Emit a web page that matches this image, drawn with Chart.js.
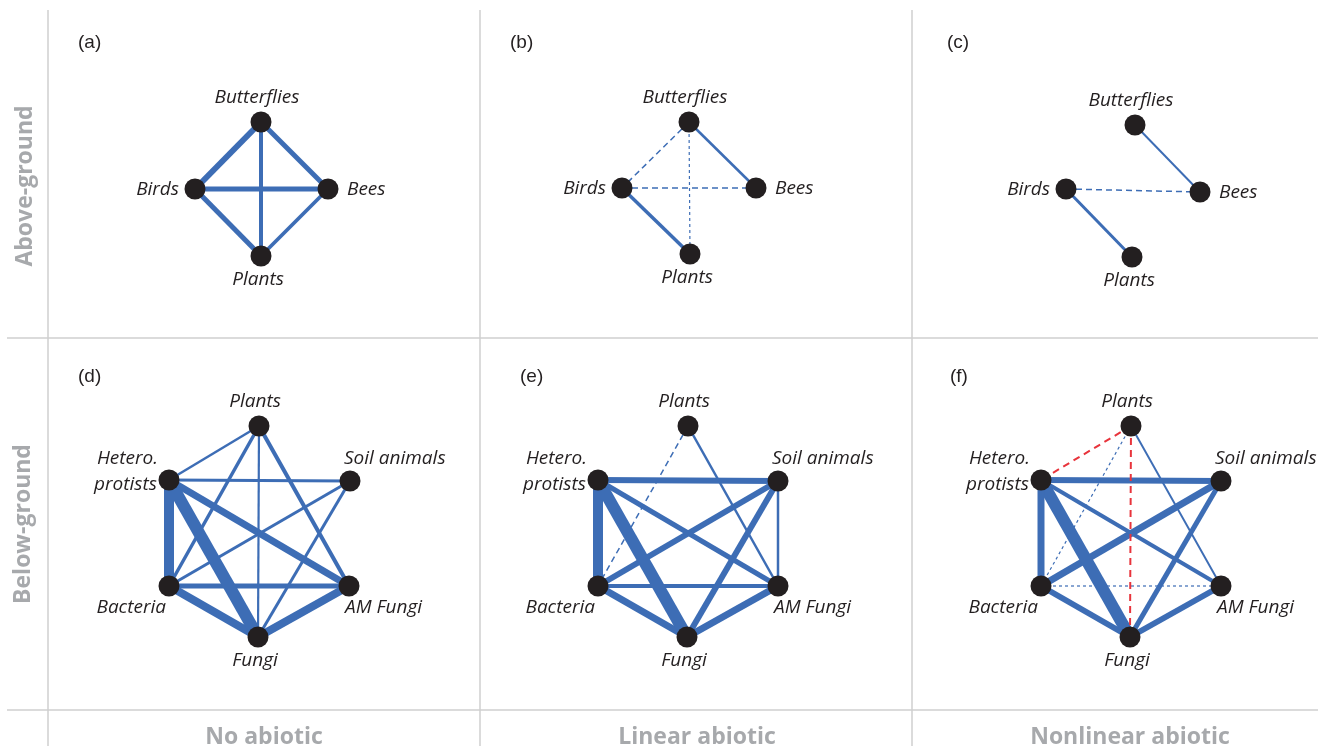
<!DOCTYPE html>
<html>
<head>
<meta charset="utf-8">
<script src="https://cdn.jsdelivr.net/npm/chart.js@4.4.1/dist/chart.umd.min.js"></script>
<style>
  html, body { margin: 0; padding: 0; background: #fff; }
  #wrap { width: 1333px; height: 746px; position: relative; }
</style>
</head>
<body>
<div id="wrap"><canvas id="myChart"></canvas></div>
<script>
let blue = "#3d6db5", red = "#e8343c", dark = "#231f20", grey = "#a7a9ac";

let colLabels = ["No abiotic", "Linear abiotic", "Nonlinear abiotic"];
let rowLabels = ["Above-ground", "Below-ground"];
let panelLetters = ["(a)", "(b)", "(c)", "(d)", "(e)", "(f)"];

// node names
let aboveNodes = ["Butterflies", "Birds", "Bees", "Plants"];
let belowNodes = ["Plants", "Hetero.\nprotists", "Soil animals", "Bacteria", "AM Fungi", "Fungi"];
// where the name sits relative to the node
let aboveSides = ["top", "left", "right", "bottom"];
let belowSides = ["top", "leftTwo", "topRight", "bottomLeft", "bottomRight", "bottom"];

// node positions (page units) per panel
let posA = [[261, 122], [195, 189], [328, 189], [261, 256]];
let posB = [[689, 122], [622, 188], [756, 188], [690, 254]];
let posC = [[1135, 125], [1066, 189], [1200, 192], [1132, 257]];
let posD = [[259, 426], [169, 480], [350, 481], [169, 586], [349, 586], [258, 637]];
let posE = [[688, 426], [598, 480], [778, 481], [598, 586], [778, 586], [687, 637]];
let posF = [[1131, 426], [1041, 480], [1221, 481], [1041, 586], [1221, 586], [1130, 637]];

// edges: [from, to, strength, kind]  s = solid, d = dashed, f = fine dashed, r = red dashed
let edgesA = [[0, 1, 6, "s"], [0, 2, 5, "s"], [0, 3, 4, "s"], [1, 2, 5, "s"], [1, 3, 5, "s"], [2, 3, 3.7, "s"]];
let edgesB = [[0, 1, 1.5, "d"], [0, 2, 2.5, "s"], [0, 3, 1.2, "f"], [1, 2, 1.5, "d"], [1, 3, 3.5, "s"]];
let edgesC = [[0, 2, 2, "s"], [1, 2, 1.5, "d"], [1, 3, 3, "s"]];
let edgesD = [[0, 1, 2.5, "s"], [0, 3, 3.5, "s"], [0, 5, 2.2, "s"], [0, 4, 4, "s"], [1, 2, 3, "s"], [1, 3, 10, "s"],
              [1, 5, 12, "s"], [1, 4, 7, "s"], [2, 3, 3, "s"], [2, 5, 3, "s"], [3, 4, 5, "s"], [3, 5, 8, "s"], [4, 5, 8, "s"]];
let edgesE = [[0, 3, 1.5, "d"], [0, 4, 2.5, "s"], [1, 2, 6, "s"], [1, 3, 10, "s"], [1, 5, 12, "s"], [1, 4, 5, "s"],
              [2, 3, 6, "s"], [2, 5, 6, "s"], [2, 4, 2.5, "s"], [3, 4, 4, "s"], [3, 5, 7, "s"], [4, 5, 7, "s"]];
let edgesF = [[0, 1, 2, "r"], [0, 3, 1.2, "f"], [0, 5, 2, "r"], [0, 4, 2, "s"], [1, 2, 6, "s"], [1, 3, 7, "s"],
              [1, 5, 12, "s"], [1, 4, 4, "s"], [2, 3, 7, "s"], [2, 5, 5, "s"], [3, 4, 1.2, "f"], [3, 5, 6, "s"], [4, 5, 6, "s"]];

let panels = [
  { pos: posA, edges: edgesA, names: aboveNodes, sides: aboveSides },
  { pos: posB, edges: edgesB, names: aboveNodes, sides: aboveSides },
  { pos: posC, edges: edgesC, names: aboveNodes, sides: aboveSides },
  { pos: posD, edges: edgesD, names: belowNodes, sides: belowSides },
  { pos: posE, edges: edgesE, names: belowNodes, sides: belowSides },
  { pos: posF, edges: edgesF, names: belowNodes, sides: belowSides }
];

let dashes = { s: [], d: [6, 4], f: [3, 3], r: [7, 5] };
let nodeRadius = 10.5;

let datasets = [];
panels.forEach(p => {
  p.edges.forEach(e => {
    let a = p.pos[e[0]], b = p.pos[e[1]];
    datasets.push({
      type: "scatter",
      data: [{ x: a[0], y: a[1] }, { x: b[0], y: b[1] }],
      showLine: true,
      borderColor: e[3] === "r" ? red : blue,
      borderWidth: e[2],
      borderDash: dashes[e[3]],
      pointRadius: 0,
      order: 1
    });
  });
  datasets.push({
    type: "scatter",
    data: p.pos.map(q => ({ x: q[0], y: q[1] })),
    pointRadius: nodeRadius,
    pointBackgroundColor: dark,
    pointBorderWidth: 0,
    order: 0
  });
});

let framePlugin = {
  id: "frame",
  beforeDatasetsDraw(chart) {
    let c = chart.ctx, sx = chart.scales.x, sy = chart.scales.y;
    c.save();
    c.strokeStyle = "#cfcfcf";
    c.lineWidth = 1.5;
    [48, 480, 912].forEach(v => {
      c.beginPath();
      c.moveTo(sx.getPixelForValue(v), sy.getPixelForValue(10));
      c.lineTo(sx.getPixelForValue(v), sy.getPixelForValue(746));
      c.stroke();
    });
    [338, 710].forEach(h => {
      c.beginPath();
      c.moveTo(sx.getPixelForValue(7), sy.getPixelForValue(h));
      c.lineTo(sx.getPixelForValue(1318), sy.getPixelForValue(h));
      c.stroke();
    });
    c.restore();
  },
  afterDatasetsDraw(chart) {
    let c = chart.ctx, sx = chart.scales.x, sy = chart.scales.y;
    c.save();
    // panel letters
    c.fillStyle = dark;
    c.font = "19px 'Liberation Sans', Arial, sans-serif";
    c.textAlign = "left";
    c.textBaseline = "middle";
    let letterPos = [[78, 43], [510, 43], [947, 43], [78, 377], [520, 377], [950, 377]];
    panelLetters.forEach((t, i) => c.fillText(t, sx.getPixelForValue(letterPos[i][0]), sy.getPixelForValue(letterPos[i][1])));

    // node names
    c.font = "italic 19px 'Open Sans', sans-serif";
    panels.forEach(p => {
      p.names.forEach((name, i) => {
        let x = sx.getPixelForValue(p.pos[i][0]), y = sy.getPixelForValue(p.pos[i][1]);
        let side = p.sides[i];
        c.textBaseline = "middle";
        if (side === "top") { c.textAlign = "center"; c.fillText(name, x - 4, y - 24); }
        else if (side === "bottom") { c.textAlign = "center"; c.fillText(name, x - 3, y + 24); }
        else if (side === "left") { c.textAlign = "right"; c.fillText(name, x - 16, y + 1); }
        else if (side === "right") { c.textAlign = "left"; c.fillText(name, x + 19, y + 1); }
        else if (side === "topRight") { c.textAlign = "left"; c.fillText(name, x - 6, y - 22); }
        else if (side === "bottomLeft") { c.textAlign = "right"; c.fillText(name, x - 3, y + 22); }
        else if (side === "bottomRight") { c.textAlign = "left"; c.fillText(name, x - 4, y + 22); }
        else if (side === "leftTwo") {
          let lines = name.split("\n");
          c.textAlign = "right";
          c.fillText(lines[0], x - 11, y - 21);
          c.fillText(lines[1], x - 12, y + 5);
        }
      });
    });

    // row and column titles
    c.fillStyle = grey;
    c.font = "bold 23px 'Open Sans', sans-serif";
    c.textAlign = "center";
    c.textBaseline = "alphabetic";
    [264, 697, 1130].forEach((cx, i) => c.fillText(colLabels[i], sx.getPixelForValue(cx), sy.getPixelForValue(744)));
    c.textBaseline = "middle";
    [[25, 186], [23, 524]].forEach((r, i) => {
      c.save();
      c.translate(sx.getPixelForValue(r[0]), sy.getPixelForValue(r[1]));
      c.rotate(-Math.PI / 2);
      c.fillText(rowLabels[i], 0, 0);
      c.restore();
    });
    c.restore();
  }
};

// the library pads the plot area by the node radius; shift the scale ends to match
let pad = nodeRadius;
let ctx = document.getElementById("myChart").getContext("2d");
let myChart = new Chart(ctx, {
  type: "scatter",
  data: { datasets: datasets },
  options: {
    responsive: true,
    maintainAspectRatio: false,
    animation: false,
    layout: { padding: 0 },
    plugins: { legend: { display: false }, tooltip: { enabled: false } },
    scales: {
      x: { type: "linear", min: pad, max: 1333 - pad, display: false },
      y: { type: "linear", min: pad, max: 746 - pad, reverse: true, display: false }
    }
  },
  plugins: [framePlugin]
});
</script>
</body>
</html>
